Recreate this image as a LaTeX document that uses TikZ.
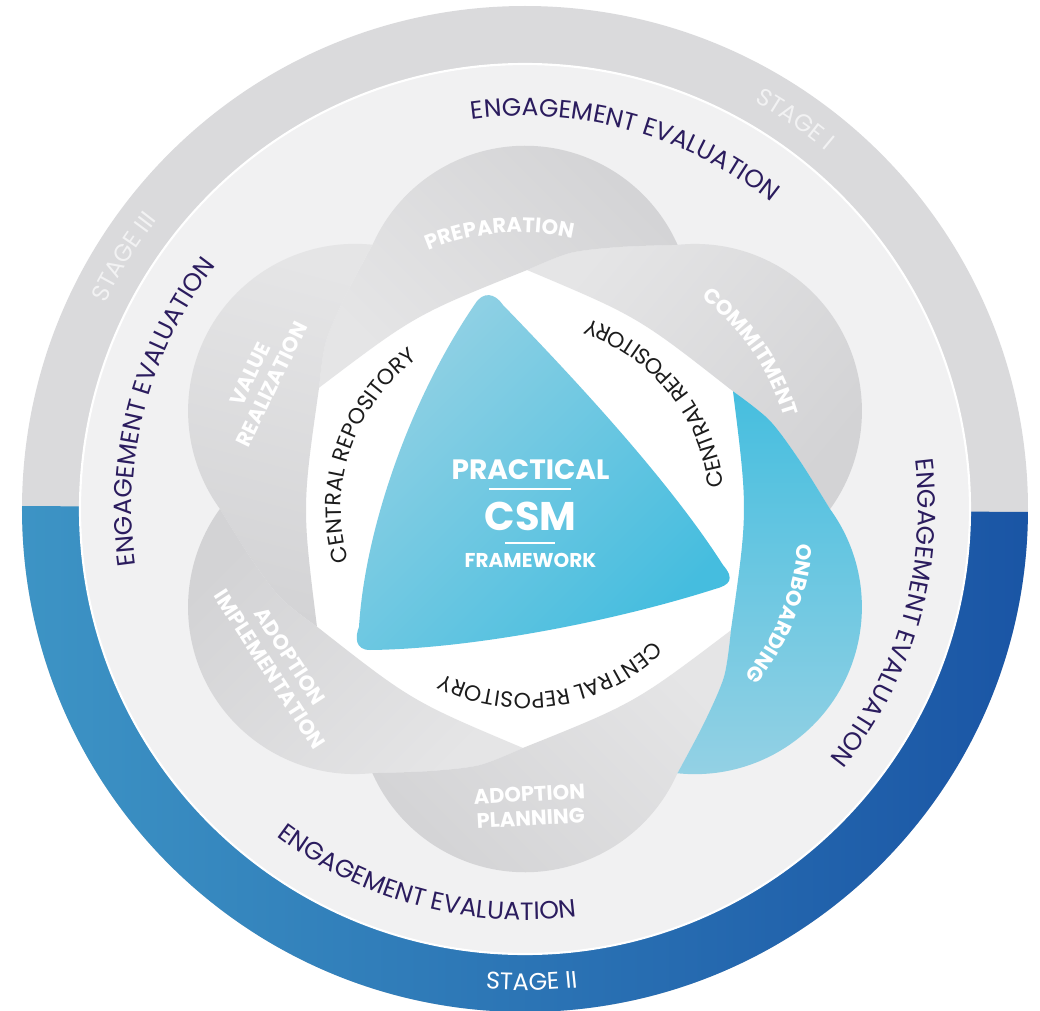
\documentclass[tikz,border=0pt]{standalone}
\usepackage{fontspec}
\setmainfont{Poppins}
\usetikzlibrary{decorations.text}

\definecolor{ringgray}{HTML}{DADADC}
\definecolor{ringblueL}{HTML}{3D94C5}
\definecolor{ringblueR}{HTML}{1A55A5}
\definecolor{bandgray}{HTML}{F1F1F2}
\definecolor{lobelight}{HTML}{E5E5E6}
\definecolor{lobedark}{HTML}{D3D3D5}
\definecolor{skydark}{HTML}{46BEDF}
\definecolor{skylight}{HTML}{94D1E4}
\definecolor{trilight}{HTML}{92D1E4}
\definecolor{tridark}{HTML}{45BDDF}
\definecolor{evalink}{HTML}{2B1C5E}
\definecolor{stagegray}{HTML}{F2F2F3}
\definecolor{repoink}{HTML}{1C1C1C}

\newcommand\evalfont{\fontsize{18.75}{20}\selectfont\color{evalink}}
\newcommand\stagefont{\fontsize{18}{20}\selectfont}
\newcommand\lobefont{\fontsize{15.75}{18}\selectfont\bfseries\color{white}}
\newcommand\repofont{\fontsize{16.5}{18}\selectfont\color{repoink}}

\begin{document}
\begin{tikzpicture}[x=0.75pt,y=0.75pt,
  lobelab/.style={align=center,inner sep=0pt,font=\lobefont},
  tritext/.style={inner sep=0pt,text=white},
  curved/.style={decorate,decoration={text along path,text align=center,text={#1}}}]
\useasboundingbox (-525,-502) rectangle (515,509);

% outer ring and band
\fill[ringgray] (0,0) circle (503);
\shade[top color=ringblueR,bottom color=ringblueL,shading angle=-90]
  (-0.34:503) arc[start angle=-0.34,end angle=-180.34,radius=503] -- cycle;
\fill[bandgray,draw=white,line width=1.6pt] (0,0) circle (445);
\fill[white] (0,0) circle (239);

% six blades
\foreach \a/\sa/\lc/\dc in {0/50/lobelight/lobedark,60/135/lobelight/lobedark,
  120/-15/lobelight/lobedark,180/-135/lobelight/lobedark,
  240/-45/lobelight/lobedark,300/0/skydark/skylight}
{
\shade[top color=\lc,bottom color=\dc,shading angle=\sa]
  ({\a+89.5}:239) -- plot[smooth] coordinates {({\a+89.5}:239) ({\a+80}:260) ({\a+70.1}:278.7) ({\a+60}:305)}
  arc[start angle={\a+96},end angle={\a-36},radius=167]
  -- plot[smooth] coordinates {({\a}:305) ({\a+10.1}:278.7) ({\a+20}:260) ({\a+29.5}:239)}
  .. controls ({\a+59.5}:223) .. ({\a+89.5}:239) -- cycle;
}

% centre triangle
\shade[top color=trilight,bottom color=tridark,shading angle=45]
  (-22,204) .. controls (35,145) and (140,35) .. (198,-56)
  .. controls (210,-70) and (205,-76) .. (190,-80)
  .. controls (80,-115) and (-60,-140) .. (-155,-141)
  .. controls (-170,-141) and (-170,-128) .. (-166,-118)
  .. controls (-160,-20) and (-115,110) .. (-50,205)
  .. controls (-42,218) and (-30,216) .. (-22,204) -- cycle;

\node[tritext,font=\fontsize{21}{22}\selectfont\bfseries] (prac) at (5.5,39) {PRACTICAL};
\node[tritext,font=\fontsize{30}{30}\selectfont\bfseries] (csm) at (5.5,-7) {CSM};
\node[tritext,font=\fontsize{15}{16}\selectfont\bfseries] (frame) at (5.5,-51.5) {FRAMEWORK};
\draw[white,line width=2pt] (-35.5,20) -- (46.5,20);
\draw[white,line width=2pt] (-19.5,-34) -- (30.5,-34);

% ring texts
\foreach \m in {74.5,165,344}
  \path[curved={|\evalfont|ENGAGEMENT EVALUATION}] ({\m+45}:393) arc[start angle={\m+45},end angle={\m-45},radius=393];
\path[curved={|\evalfont|ENGAGEMENT EVALUATION}] (210:411) arc[start angle=210,end angle=300,radius=411];

\path[curved={|\stagefont\color{stagegray}|STAGE I}] (95.3:467.5) arc[start angle=95.3,end angle=15.3,radius=467.5];
\path[curved={|\stagefont\color{stagegray}|STAGE III}] (187.9:467.5) arc[start angle=187.9,end angle=107.9,radius=467.5];
\path[curved={|\stagefont\color{white}|STAGE II}] (-129.2:481.5) arc[start angle=-129.2,end angle=-49.2,radius=481.5];

% repository texts
\path[curved={|\repofont|CENTRAL REPOSITORY}] (201:184) arc[start angle=201,end angle=121,radius=184];
\path[curved={|\repofont|CENTRAL REPOSITORY}] (-1:200) arc[start angle=-1,end angle=79,radius=200];
\path[curved={|\repofont|CENTRAL REPOSITORY}] (-41:184) arc[start angle=-41,end angle=-121,radius=184];

% blade labels
\path[curved={|\lobefont|PREPARATION},shift={(96.5:44.3)}] (135:232.7) arc[start angle=135,end angle=55,radius=232.7];
\path[curved={|\lobefont|COMMITMENT},shift={(36.5:44.3)}] (74.5:232.7) arc[start angle=74.5,end angle=-5.5,radius=232.7];
\path[curved={|\lobefont|ONBOARDING},shift={(-23.5:44.3)}] (18:232.7) arc[start angle=18,end angle=-62,radius=232.7];
\node[lobelab,rotate=64] (valuelab) at (-264,130) {VALUE\\REALIZATION};
\node[lobelab,rotate=-57] (adoptimp) at (-245,-154) {ADOPTION\\IMPLEMENTATION};
\node[lobelab,rotate=3] (adoptplan) at (5,-297) {ADOPTION\\PLANNING};
\end{tikzpicture}
\end{document}
